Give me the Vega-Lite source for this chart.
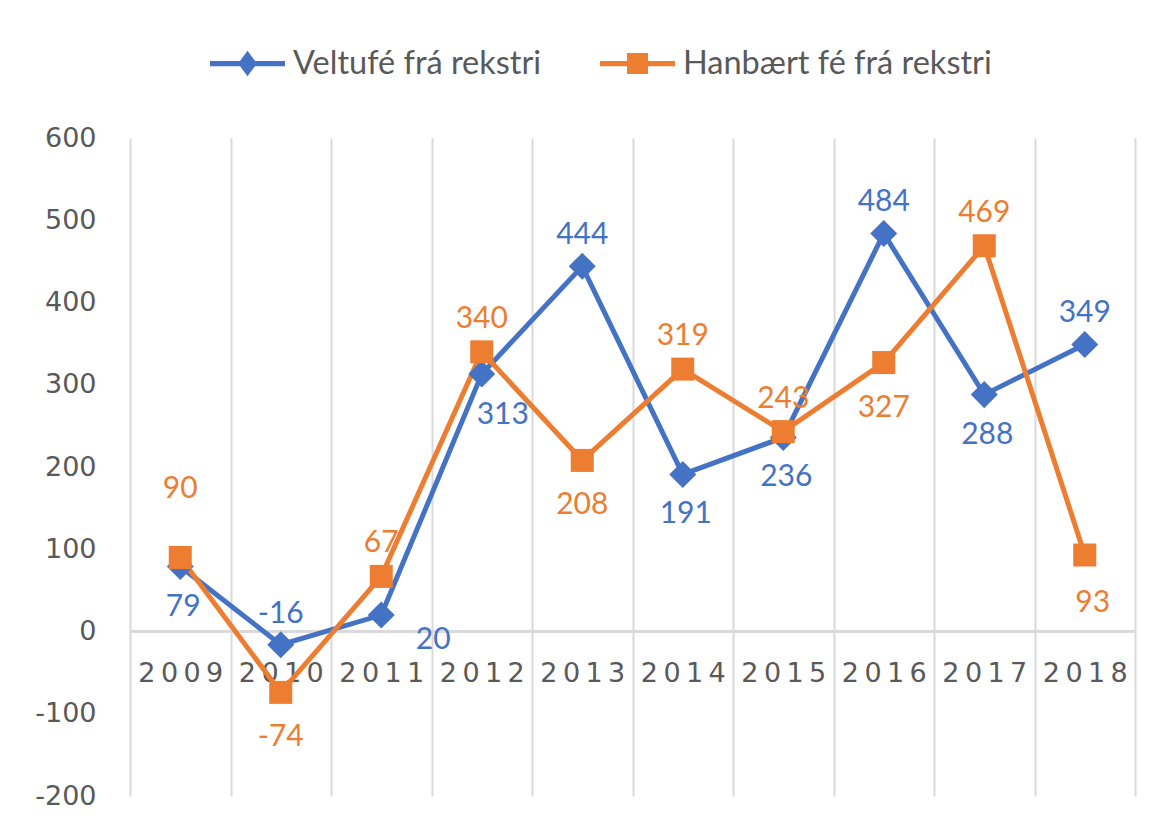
{
  "$schema": "https://vega.github.io/schema/vega-lite/v6.json",
  "width": 1005,
  "height": 658,
  "autosize": "none",
  "padding": {"left": 130, "top": 138, "right": 33, "bottom": 32},
  "background": "white",
  "config": {"view": {"stroke": null}, "font": "Lato"},
  "data": {
    "values": [
      {"year": 2009, "series": "Veltufé frá rekstri", "value": 79},
      {"year": 2010, "series": "Veltufé frá rekstri", "value": -16},
      {"year": 2011, "series": "Veltufé frá rekstri", "value": 20},
      {"year": 2012, "series": "Veltufé frá rekstri", "value": 313},
      {"year": 2013, "series": "Veltufé frá rekstri", "value": 444},
      {"year": 2014, "series": "Veltufé frá rekstri", "value": 191},
      {"year": 2015, "series": "Veltufé frá rekstri", "value": 236},
      {"year": 2016, "series": "Veltufé frá rekstri", "value": 484},
      {"year": 2017, "series": "Veltufé frá rekstri", "value": 288},
      {"year": 2018, "series": "Veltufé frá rekstri", "value": 349},
      {"year": 2009, "series": "Hanbært fé frá rekstri", "value": 90},
      {"year": 2010, "series": "Hanbært fé frá rekstri", "value": -74},
      {"year": 2011, "series": "Hanbært fé frá rekstri", "value": 67},
      {"year": 2012, "series": "Hanbært fé frá rekstri", "value": 340},
      {"year": 2013, "series": "Hanbært fé frá rekstri", "value": 208},
      {"year": 2014, "series": "Hanbært fé frá rekstri", "value": 319},
      {"year": 2015, "series": "Hanbært fé frá rekstri", "value": 243},
      {"year": 2016, "series": "Hanbært fé frá rekstri", "value": 327},
      {"year": 2017, "series": "Hanbært fé frá rekstri", "value": 469},
      {"year": 2018, "series": "Hanbært fé frá rekstri", "value": 93}
    ]
  },
  "layer": [
    {
      "mark": {"type": "rule", "color": "#D9D9D9", "strokeWidth": 2},
      "encoding": {"y": {"datum": 0, "type": "quantitative"}}
    },
    {
      "mark": {"type": "line", "strokeWidth": 5},
      "encoding": {
        "x": {
          "field": "year", "type": "ordinal",
          "scale": {"type": "band", "paddingInner": 0, "paddingOuter": 0},
          "axis": {
            "title": null, "domain": false, "ticks": false, "grid": true,
            "tickBand": "extent", "gridColor": "#D9D9D9", "gridWidth": 2,
            "labelFont": "DejaVu Sans", "labelFontSize": 27, "labelColor": "#595959",
            "labelPadding": -123, "labelBaseline": "middle", "labelAngle": 0,
            "zindex": 0,
            "labelExpr": "join(split(datum.label, ''), '\u2009')"
          }
        },
        "y": {
          "field": "value", "type": "quantitative",
          "scale": {"domain": [-200, 600], "nice": false},
          "axis": {
            "title": null, "domain": false, "ticks": false, "grid": false,
            "values": [-200, -100, 0, 100, 200, 300, 400, 500, 600],
            "labelFont": "DejaVu Sans", "labelFontSize": 27, "labelColor": "#595959",
            "labelPadding": 34,
            "labelExpr": "toString(datum.value)"
          }
        },
        "color": {
          "field": "series", "type": "nominal",
          "scale": {"domain": ["Veltufé frá rekstri", "Hanbært fé frá rekstri"], "range": ["#4472C4", "#ED7D31"]},
          "legend": {
            "orient": "none", "legendX": 80, "legendY": -112, "direction": "horizontal",
            "title": null, "padding": 0,
            "labelFont": "Lato", "labelFontSize": 32.5, "labelColor": "#595959", "labelLimit": 500,
            "symbolSize": 5625, "labelOffset": 8, "columnPadding": 58,
            "encode": {
              "symbols": {
                "update": {
                  "shape": {"signal": "datum.value === 'Veltufé frá rekstri' ? 'M-1,-0.07H1V0.07H-1Z M0,-0.34L0.25,0L0,0.34L-0.25,0Z' : 'M-1,-0.07H1V0.07H-1Z M-0.28,-0.28H0.28V0.28H-0.28Z'"},
                  "fill": {"signal": "datum.value === 'Veltufé frá rekstri' ? '#4472C4' : '#ED7D31'"},
                  "fillOpacity": {"value": 1},
                  "strokeWidth": {"value": 0},
                  "size": {"value": 5625}
                }
              }
            }
          }
        }
      }
    },
    {
      "transform": [{"filter": "datum.series == 'Veltufé frá rekstri'"}],
      "mark": {"type": "point", "filled": true, "opacity": 1, "shape": "diamond", "size": 730, "color": "#4472C4"},
      "encoding": {
        "x": {"field": "year", "type": "ordinal"},
        "y": {"field": "value", "type": "quantitative"}
      }
    },
    {
      "transform": [{"filter": "datum.series == 'Hanbært fé frá rekstri'"}],
      "mark": {"type": "point", "filled": true, "opacity": 1, "shape": "square", "size": 530, "color": "#ED7D31"},
      "encoding": {
        "x": {"field": "year", "type": "ordinal"},
        "y": {"field": "value", "type": "quantitative"}
      }
    },
    {
      "transform": [{"filter": "datum.series == 'Veltufé frá rekstri' && indexof([2010, 2013, 2016, 2018], datum.year) >= 0"}],
      "mark": {"type": "text", "font": "Lato", "fontSize": 30, "color": "#4472C4", "baseline": "middle", "dy": -31},
      "encoding": {"x": {"field": "year", "type": "ordinal"}, "y": {"field": "value", "type": "quantitative"}, "text": {"field": "value", "type": "nominal"}}
    },
    {
      "transform": [{"filter": "datum.series == 'Veltufé frá rekstri' && indexof([2009, 2014, 2015, 2017], datum.year) >= 0"}],
      "mark": {"type": "text", "font": "Lato", "fontSize": 30, "color": "#4472C4", "baseline": "middle", "dy": 40, "dx": 3},
      "encoding": {"x": {"field": "year", "type": "ordinal"}, "y": {"field": "value", "type": "quantitative"}, "text": {"field": "value", "type": "nominal"}}
    },
    {
      "transform": [{"filter": "datum.series == 'Veltufé frá rekstri' && datum.year == 2011"}],
      "mark": {"type": "text", "font": "Lato", "fontSize": 30, "color": "#4472C4", "baseline": "middle", "dy": 25, "dx": 52},
      "encoding": {"x": {"field": "year", "type": "ordinal"}, "y": {"field": "value", "type": "quantitative"}, "text": {"field": "value", "type": "nominal"}}
    },
    {
      "transform": [{"filter": "datum.series == 'Veltufé frá rekstri' && datum.year == 2012"}],
      "mark": {"type": "text", "font": "Lato", "fontSize": 30, "color": "#4472C4", "baseline": "middle", "dy": 41, "dx": 21},
      "encoding": {"x": {"field": "year", "type": "ordinal"}, "y": {"field": "value", "type": "quantitative"}, "text": {"field": "value", "type": "nominal"}}
    },
    {
      "transform": [{"filter": "datum.series == 'Hanbært fé frá rekstri' && indexof([2011, 2012, 2014, 2015, 2017], datum.year) >= 0"}],
      "mark": {"type": "text", "font": "Lato", "fontSize": 30, "color": "#ED7D31", "baseline": "middle", "dy": -33},
      "encoding": {"x": {"field": "year", "type": "ordinal"}, "y": {"field": "value", "type": "quantitative"}, "text": {"field": "value", "type": "nominal"}}
    },
    {
      "transform": [{"filter": "datum.series == 'Hanbært fé frá rekstri' && datum.year == 2009"}],
      "mark": {"type": "text", "font": "Lato", "fontSize": 30, "color": "#ED7D31", "baseline": "middle", "dy": -68},
      "encoding": {"x": {"field": "year", "type": "ordinal"}, "y": {"field": "value", "type": "quantitative"}, "text": {"field": "value", "type": "nominal"}}
    },
    {
      "transform": [{"filter": "datum.series == 'Hanbært fé frá rekstri' && indexof([2010, 2013, 2016], datum.year) >= 0"}],
      "mark": {"type": "text", "font": "Lato", "fontSize": 30, "color": "#ED7D31", "baseline": "middle", "dy": 45},
      "encoding": {"x": {"field": "year", "type": "ordinal"}, "y": {"field": "value", "type": "quantitative"}, "text": {"field": "value", "type": "nominal"}}
    },
    {
      "transform": [{"filter": "datum.series == 'Hanbært fé frá rekstri' && datum.year == 2018"}],
      "mark": {"type": "text", "font": "Lato", "fontSize": 30, "color": "#ED7D31", "baseline": "middle", "dy": 48, "dx": 8},
      "encoding": {"x": {"field": "year", "type": "ordinal"}, "y": {"field": "value", "type": "quantitative"}, "text": {"field": "value", "type": "nominal"}}
    }
  ]
}
